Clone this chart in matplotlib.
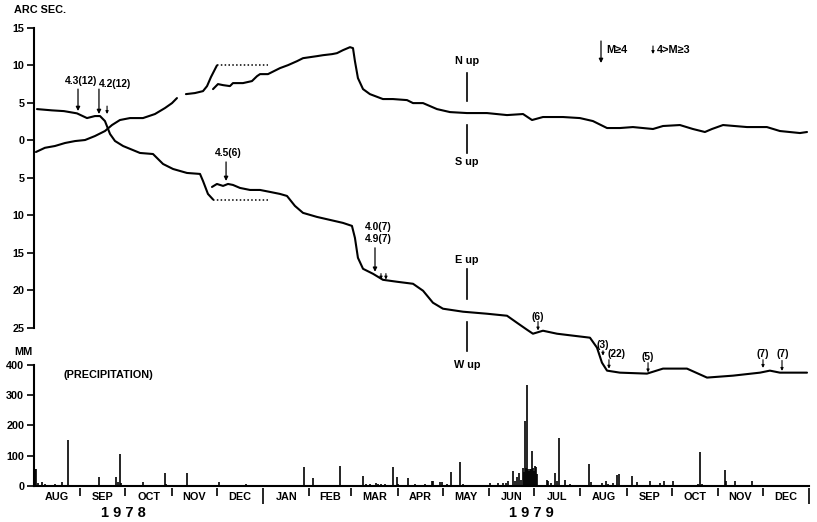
import numpy as np
import matplotlib
matplotlib.use("Agg")
import matplotlib.pyplot as plt

# ---------------- data (x = days since 1 Aug 1978, y = arc sec) ----------------
ns_a_days = [1.3, 7.3, 14.0, 20.7, 27.4, 34.1, 40.7, 47.4, 52.1, 57.4, 64.1, 72.8, 80.8, 87.5, 92.2, 95.5]
ns_a_vals = [-1.56, -1.0, -0.76, -0.36, -0.1, 0.04, 0.57, 1.24, 2.04, 2.71, 2.97, 2.97, 3.51, 4.31, 4.97, 5.64]
ns_b_days = [101.5, 107.5, 112.9, 115.6, 118.2, 121.6, 122.2]
ns_b_vals = [6.17, 6.31, 6.57, 7.24, 8.44, 9.77, 10.0]
ns_dot_days = [122.2, 156.3]
ns_dot_vals = [10.0, 10.0]
ns_c_days = [119.6, 122.9, 126.3, 130.9, 132.9, 139.6, 145.6, 149.0, 151.0, 156.3, 164.3, 169.7,
             175.7, 179.7, 189.0, 193.1, 199.1, 202.4, 206.4, 211.1, 213.1, 214.4, 216.4, 219.8,
             224.4, 233.1, 239.8, 249.2, 253.2, 259.9, 269.2, 277.9, 289.2, 302.6, 316.0, 326.7,
             332.7, 340.0, 353.4, 364.7, 373.4, 382.8, 391.4, 400.1, 413.5, 420.2, 431.5, 440.2,
             448.2, 452.9, 460.3, 476.3, 489.6, 498.3, 511.7, 516.4]
ns_c_vals = [6.84, 7.51, 7.37, 7.24, 7.64, 7.64, 7.91, 8.57, 8.84, 8.84, 9.64, 10.04,
             10.57, 10.97, 11.24, 11.37, 11.51, 11.64, 12.04, 12.44, 12.31, 10.57, 8.31, 6.84,
             6.17, 5.51, 5.51, 5.37, 4.97, 4.97, 4.17, 3.77, 3.64, 3.64, 3.37, 3.51,
             2.71, 3.11, 3.11, 2.97, 2.57, 1.64, 1.64, 1.77, 1.51, 1.91, 2.04, 1.51,
             1.11, 1.51, 2.04, 1.77, 1.77, 1.24, 0.97, 1.11]

ew_a_days = [2.0, 12.0, 20.0, 28.7, 35.4, 40.7, 44.1, 47.4, 50.8, 54.1, 59.5, 70.8, 79.5, 86.2,
             92.9, 102.2, 110.9, 112.9, 116.2, 119.6]
ew_a_vals = [4.17, 4.0, 3.9, 3.6, 2.97, 3.24, 3.24, 2.57, 0.84, -0.09, -0.76, -1.69, -1.83, -3.16,
             -3.83, -4.36, -4.49, -5.43, -7.16, -7.9]
ew_dot_days = [119.6, 157.6]
ew_dot_vals = [-7.96, -7.96]
ew_b_days = [118.9, 122.2, 126.3, 129.6, 132.9, 137.6, 144.3, 151.0, 157.6, 164.3, 169.0, 174.3,
             179.7, 189.0, 197.7, 206.4, 212.4, 214.4, 216.4, 219.8, 226.5, 233.1, 242.5, 253.2,
             259.9, 266.5, 273.2, 286.6, 302.6, 316.0, 322.6, 329.3, 333.3, 340.0, 349.4, 360.1,
             371.4, 376.1, 379.4, 382.8, 391.4, 409.5, 420.2, 436.2, 449.6, 467.0, 485.0, 491.6,
             498.3, 516.4]
ew_b_vals = [-6.23, -5.83, -6.09, -5.83, -5.96, -6.36, -6.63, -6.63, -6.89, -7.16, -7.43, -8.76,
             -9.69, -10.23, -10.63, -11.03, -11.43, -13.03, -15.69, -17.16, -17.83, -18.63, -18.89, -19.16,
             -20.09, -21.69, -22.49, -22.89, -23.16, -23.43, -24.36, -25.29, -25.83, -25.43, -25.83, -26.09,
             -26.36, -27.69, -29.69, -30.76, -31.03, -31.16, -30.49, -30.49, -31.69, -31.43, -31.03, -30.76,
             -31.03, -31.03]

precip_days = [0.7, 1.3, 2.7, 5.3, 7.3, 14.0, 18.7, 22.9, 32.7, 40.1, 43.4, 54.8, 56.1, 57.4, 58.1,
               72.8, 87.5, 88.2, 102.2, 106.2, 118.9, 123.6, 141.6, 149.6, 167.7, 180.4, 186.4,
               191.0, 194.4, 197.1, 204.4, 219.8, 221.8, 224.4, 228.5, 229.8, 231.8, 234.5, 239.6,
               242.3, 243.2, 249.8, 254.5, 261.2, 265.7, 266.5, 271.2, 272.5, 275.9, 278.4, 284.6,
               286.6, 304.6, 309.9, 313.3, 315.3, 316.6, 319.8, 321.3, 322.6, 324.2, 325.3, 326.7,
               327.5, 328.0, 328.5, 329.1, 330.0, 330.7, 331.3, 332.0, 332.5, 333.3, 334.0, 334.7,
               335.3, 335.8, 342.5, 343.4, 345.4, 348.0, 349.4, 350.9, 354.7, 358.0, 370.7, 372.1,
               379.4, 382.1, 383.4, 386.8, 389.6, 390.6, 399.7, 402.8, 411.5, 418.2, 421.0, 426.6,
               443.6, 444.9, 446.2, 461.6, 462.3, 468.3, 479.8]
precip_mm = [57, 55, 8, 11, 5, 4, 13, 153, 3, 2, 30, 30, 12, 104, 8,
             13, 41, 5, 41, 3, 3, 13, 5, 2, 3, 63, 24,
             3, 2, 3, 65, 33, 5, 4, 8, 6, 5, 7, 61,
             30, 4, 25, 5, 5, 16, 16, 11, 13, 5, 47, 77,
             5, 10, 8, 8, 10, 14, 50, 15, 30, 41, 20, 60,
             45, 215, 60, 335, 55, 50, 55, 55, 116, 60, 48, 66,
             63, 40, 19, 14, 10, 41, 15, 158, 18, 5, 72, 11,
             8, 16, 6, 8, 36, 38, 33, 11, 14, 10, 17, 14,
             6, 113, 6, 52, 16, 14, 14]

month_starts = [0, 31, 61, 92, 122, 153, 184, 212, 243, 273, 304, 334, 365, 396, 426, 457, 487, 518]
month_labels = ["AUG", "SEP", "OCT", "NOV", "DEC", "JAN", "FEB", "MAR", "APR", "MAY",
                "JUN", "JUL", "AUG", "SEP", "OCT", "NOV", "DEC"]
year_labels = ["1 9 7 8", "1 9 7 9"]
year_label_days = [60, 332]

tilt_ticks = [15, 10, 5, 0, -5, -10, -15, -20, -25]
tilt_tick_labels = ["15", "10", "5", "0", "5", "10", "15", "20", "25"]
precip_ticks = [0, 100, 200, 300, 400]

# earthquake markers: (day, text, text_y, arrow_top, arrow_bottom, text_x)
big_quakes = [(29.4, "4.3(12)", 7.9, 6.84, 3.91, 31.4),
              (43.4, "4.2(12)", 7.5, 6.84, 3.51, 53.8),
              (128.3, "4.5(6)", -1.69, -2.89, -5.43, 129.6)]
small_quakes = [(48.8, 4.57, 3.51), (231.8, -17.8, -18.6), (235.1, -17.8, -18.6),
                (380.1, -28.1, -28.76)]
labelled_small = [(336.7, "(6)", -23.56, -24.2, -25.4, 336.7),
                  (384.1, "(22)", -28.6, -29.3, -30.5, 389.4),
                  (410.2, "(5)", -28.9, -29.7, -31.0, 410.2),
                  (487.0, "(7)", -28.5, -29.3, -30.4, 487.0),
                  (499.7, "(7)", -28.5, -29.4, -30.8, 500.3)]

# ---------------- figure ----------------
W, H = 817, 522
plt.rcParams['font.family'] = ['Liberation Sans', 'DejaVu Sans']
fig = plt.figure(figsize=(W / 100, H / 100), dpi=100)
FW = 'bold'
FS = 7.8
QS = 7.4

def fx(px):
    return px / W

def fy(py):
    return 1 - py / H

x0, x1 = 34, 809.4
ax1 = fig.add_axes([fx(x0), fy(327.5), fx(x1) - fx(x0), fy(28) - fy(327.5)])
ax2 = fig.add_axes([fx(x0), fy(485.7), fx(x1) - fx(x0), fy(365) - fy(485.7)])

for ax in (ax1, ax2):
    ax.set_xlim(0, 518)
    ax.patch.set_alpha(0)
    for s in ("top", "right"):
        ax.spines[s].set_visible(False)
    ax.spines["left"].set_linewidth(1.5)
    ax.tick_params(axis='y', direction='out', length=5, width=1.2, pad=2, labelsize=FS)
    ax.set_xticks([])

ax1.spines["bottom"].set_visible(False)
ax1.set_ylim(-25, 15)
ax1.set_yticks(tilt_ticks)
ax1.set_yticklabels(tilt_tick_labels, fontweight=FW, fontsize=FS)

lw = 1.5
kw = dict(color='black', lw=lw, clip_on=False, solid_capstyle='round')
ax1.plot(ns_a_days, ns_a_vals, **kw)
ax1.plot(ns_b_days, ns_b_vals, **kw)
ax1.plot(ns_c_days, ns_c_vals, **kw)
ax1.plot(ew_a_days, ew_a_vals, **kw)
ax1.plot(ew_b_days, ew_b_vals, **kw)
ax1.plot(ns_dot_days, ns_dot_vals, color='black', lw=1.1, ls=(0, (1, 1.5)), clip_on=False)
ax1.plot(ew_dot_days, ew_dot_vals, color='black', lw=1.1, ls=(0, (1, 1.5)), clip_on=False)

def arrow(ax, d, ytop, ybot, big=True):
    ax.annotate('', xy=(d, ybot), xytext=(d, ytop), annotation_clip=False,
                arrowprops=dict(arrowstyle='-|>', lw=0.9 if big else 0.8, color='black',
                                mutation_scale=6 if big else 4, shrinkA=0, shrinkB=0))

for d, txt, ty, ya, yb, tx in big_quakes:
    ax1.text(tx, ty, txt, ha='center', va='center', fontsize=QS, fontweight=FW)
    arrow(ax1, d, ya, yb)
for d, ya, yb in small_quakes:
    arrow(ax1, d, ya, yb, big=False)
for d, txt, ty, ya, yb, tx in labelled_small:
    ax1.text(tx, ty, txt, ha='center', va='center', fontsize=QS, fontweight=FW)
    arrow(ax1, d, ya, yb, big=False)

ax1.text(229.8, -11.56, "4.0(7)", ha='center', va='center', fontsize=QS, fontweight=FW)
ax1.text(229.8, -13.16, "4.9(7)", ha='center', va='center', fontsize=QS, fontweight=FW)
arrow(ax1, 227.8, -14.36, -17.56)
ax1.text(380.1, -27.4, "(3)", ha='center', va='center', fontsize=QS, fontweight=FW)

# direction indicators
dcol = 289.2
for txt, ty, ya, yb in [("N up", 10.57, 8.97, 5.24), ("S up", -2.89, 2.04, -1.69),
                        ("E up", -15.96, -17.16, -21.16), ("W up", -30.0, -24.23, -28.1)]:
    ax1.text(dcol, ty, txt, ha='center', va='center', fontsize=FS, fontweight=FW)
    ax1.plot([dcol, dcol], [ya, yb], color='black', lw=1.2, clip_on=False)

# precipitation panel
ax2.set_ylim(0, 400)
ax2.set_yticks(precip_ticks)
ax2.set_yticklabels([str(t) for t in precip_ticks], fontweight=FW, fontsize=FS)
ax2.spines["bottom"].set_linewidth(1.5)
ax2.vlines(precip_days, 0, precip_mm, color='black', lw=1.2)
ax2.text(19.4, 366, "(PRECIPITATION)", ha='left', va='center', fontsize=FS, fontweight=FW)

for ms in month_starts[1:]:
    long = ms in (153, 518)
    ax2.vlines(ms, -7, -62 if long else -34, color='black', lw=1.2, clip_on=False)
for i, lab in enumerate(month_labels):
    c = (month_starts[i] + month_starts[i + 1]) / 2
    ax2.text(c, -37, lab, ha='center', va='center', fontsize=FS, fontweight=FW, clip_on=False)
for d, lab in zip(year_label_days, year_labels):
    ax2.text(d, -90, lab, ha='center', va='center', fontsize=10.5, fontweight=FW, clip_on=False)

# headers
fig.text(fx(14), fy(10), "ARC SEC.", ha='left', va='center', fontsize=FS, fontweight=FW)
fig.text(fx(14), fy(352), "MM", ha='left', va='center', fontsize=FS, fontweight=FW)

# legend
fig.add_artist(matplotlib.patches.FancyArrowPatch((fx(601), fy(41)), (fx(601), fy(63)),
               transform=fig.transFigure, arrowstyle='-|>', mutation_scale=6, lw=0.9,
               color='black', shrinkA=0, shrinkB=0))
fig.text(fx(606), fy(50), "M≥4", ha='left', va='center', fontsize=FS, fontweight=FW)
fig.add_artist(matplotlib.patches.FancyArrowPatch((fx(653), fy(46)), (fx(653), fy(54)),
               transform=fig.transFigure, arrowstyle='-|>', mutation_scale=4, lw=0.8,
               color='black', shrinkA=0, shrinkB=0))
fig.text(fx(657), fy(50), "4>M≥3", ha='left', va='center', fontsize=FS, fontweight=FW)

fig.savefig("out.png", dpi=100, facecolor='white')
